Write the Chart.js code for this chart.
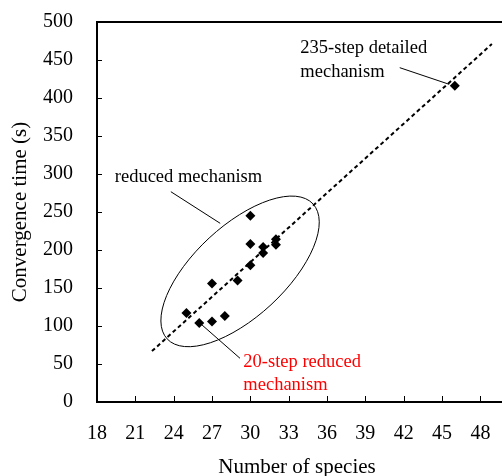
<!DOCTYPE html>
<html>
<head>
<meta charset="utf-8">
<script src="https://cdn.jsdelivr.net/npm/chart.js@4.4.1/dist/chart.umd.min.js"></script>
<style>
  body { margin: 0; background: #fff; }
  canvas { display: block; }
</style>
</head>
<body>
<canvas id="chart" width="502" height="476"></canvas>
<script>
// tick labels
const xTicks = [18, 21, 24, 27, 30, 33, 36, 39, 42, 45, 48];
const yTicks = [0, 50, 100, 150, 200, 250, 300, 350, 400, 450, 500];

// reduced mechanisms (number of species vs convergence time)
const reducedSpecies = [25, 26, 27, 27, 28, 29, 30, 30, 30, 31, 31, 32, 32];
const reducedTime = [117, 104, 106, 156, 113, 160, 180, 208, 245, 196, 204, 207, 214];

// 235-step detailed mechanism
const detailedSpecies = [46];
const detailedTime = [416];

// linear fit (dashed)
const fitSpecies = [22.3, 48.9];
const fitTime = [67, 471];

const SERIF = '"Liberation Serif", "Times New Roman", serif';

// annotation shapes, anchored in data units
const ellipseAxis = { from: [23.49, 83.0], to: [34.9, 260.7], minorPx: 45.5 };
const leaders = [
    { from: [23.78, 276.7], to: [27.64, 235.1] },
    { from: [41.69, 439.9], to: [45.56, 418.0] },
    { from: [26.22, 101.3], to: [29.19, 57.5] }
];
const labels = [
    { at: [19.39, 296], lines: ['reduced mechanism'], color: '#000' },
    { at: [33.91, 465.4], lines: ['235-step detailed', 'mechanism'], color: '#000' },
    { at: [29.45, 53], lines: ['20-step reduced', 'mechanism'], color: '#ff0000' }
];

const annotate = {
    id: 'annotate',
    beforeDatasetsDraw(chart) {
        const { ctx, chartArea: a, scales: { x, y } } = chart;
        const px = p => [x.getPixelForValue(p[0]), y.getPixelForValue(p[1])];
        ctx.save();

        // frame: top, left, bottom
        ctx.strokeStyle = '#000';
        ctx.lineWidth = 2;
        ctx.beginPath();
        ctx.moveTo(a.right + 5, a.top);
        ctx.lineTo(a.left, a.top);
        ctx.lineTo(a.left, a.bottom);
        ctx.lineTo(a.right + 5, a.bottom);
        ctx.stroke();

        // inward tick marks
        ctx.lineWidth = 1;
        ctx.beginPath();
        x.ticks.forEach(t => {
            if (t.value === x.min) return;
            const p = Math.round(x.getPixelForValue(t.value)) + 0.5;
            ctx.moveTo(p, a.bottom);
            ctx.lineTo(p, a.bottom - 6);
        });
        y.ticks.forEach(t => {
            if (t.value === y.min || t.value === y.max) return;
            const p = Math.round(y.getPixelForValue(t.value)) + 0.5;
            ctx.moveTo(a.left, p);
            ctx.lineTo(a.left + 5, p);
        });
        ctx.stroke();

        // ellipse round the reduced mechanisms
        const [x1, y1] = px(ellipseAxis.from);
        const [x2, y2] = px(ellipseAxis.to);
        ctx.beginPath();
        ctx.ellipse((x1 + x2) / 2, (y1 + y2) / 2,
            Math.hypot(x2 - x1, y2 - y1) / 2, ellipseAxis.minorPx,
            Math.atan2(y2 - y1, x2 - x1), 0, Math.PI * 2);
        ctx.stroke();

        // leader lines
        ctx.beginPath();
        leaders.forEach(l => {
            const [ax, ay] = px(l.from);
            const [bx, by] = px(l.to);
            ctx.moveTo(ax, ay);
            ctx.lineTo(bx, by);
        });
        ctx.stroke();

        // labels
        ctx.font = '18.5px ' + SERIF;
        ctx.textBaseline = 'middle';
        ctx.textAlign = 'left';
        labels.forEach(lb => {
            const [lx, ly] = px(lb.at);
            ctx.fillStyle = lb.color;
            lb.lines.forEach((s, i) => ctx.fillText(s, lx, ly + i * 23.4));
        });
        ctx.restore();
    }
};

new Chart(document.getElementById('chart'), {
    type: 'scatter',
    data: {
        datasets: [
            {
                label: 'reduced mechanism',
                data: reducedSpecies.map((s, i) => ({ x: s, y: reducedTime[i] })),
                pointStyle: 'rectRot',
                pointRadius: 5,
                backgroundColor: '#000',
                borderColor: '#000',
                borderWidth: 0
            },
            {
                label: '235-step detailed mechanism',
                data: detailedSpecies.map((s, i) => ({ x: s, y: detailedTime[i] })),
                pointStyle: 'rectRot',
                pointRadius: 5,
                backgroundColor: '#000',
                borderColor: '#000',
                borderWidth: 0
            },
            {
                label: 'fit',
                data: fitSpecies.map((s, i) => ({ x: s, y: fitTime[i] })),
                showLine: true,
                pointRadius: 0,
                borderColor: '#000',
                borderWidth: 2,
                borderDash: [4, 3]
            }
        ]
    },
    options: {
        responsive: false,
        animation: false,
        layout: { padding: { top: 22, right: -4, left: 0, bottom: 0 } },
        plugins: { legend: { display: false }, tooltip: { enabled: false } },
        scales: {
            x: {
                type: 'linear',
                min: 18,
                max: 49.3,
                afterFit: s => { s.height = 74; s.paddingLeft = 0; s.paddingRight = 0; },
                afterBuildTicks: s => { s.ticks = xTicks.map(v => ({ value: v })); },
                grid: { display: false, drawTicks: false },
                border: { display: false },
                ticks: { color: '#000', padding: 20, font: { family: SERIF, size: 20 } },
                title: {
                    display: true,
                    text: 'Number of species',
                    color: '#000',
                    padding: { top: 0, bottom: -2 },
                    font: { family: SERIF, size: 21, lineHeight: 1 }
                }
            },
            y: {
                min: 0,
                max: 500,
                afterFit: s => { s.width = 97; s.paddingTop = 0; s.paddingBottom = 0; },
                afterBuildTicks: s => { s.ticks = yTicks.map(v => ({ value: v })); },
                grid: { display: false, drawTicks: false },
                border: { display: false },
                ticks: { color: '#000', padding: 24, font: { family: SERIF, size: 20 } },
                title: {
                    display: true,
                    text: 'Convergence time (s)',
                    color: '#000',
                    padding: { top: 10, bottom: 0 },
                    font: { family: SERIF, size: 21, lineHeight: 1 }
                }
            }
        }
    },
    plugins: [annotate]
});
</script>
</body>
</html>
